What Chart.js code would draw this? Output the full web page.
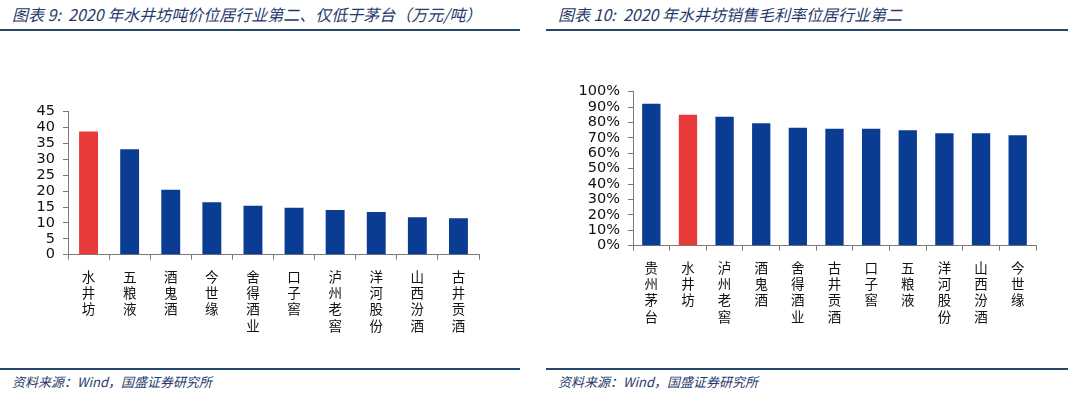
<!DOCTYPE html>
<html lang="zh">
<head>
  <meta charset="UTF-8">
  <title>水井坊吨价与毛利率</title>
  <script src="https://cdn.jsdelivr.net/npm/chart.js"></script>
  <style>
    body {
      margin: 0;
      width: 1068px;
      height: 398px;
      position: relative;
      background: #fff;
      overflow: hidden;
      font-family: "Noto Sans CJK SC", sans-serif;
    }
    .title, .source {
      position: absolute;
      color: #1f3a6b;
      font-style: italic;
      white-space: nowrap;
    }
    .title { font-size: 16px; top: 2px; }
    .source { font-size: 13px; top: 372px; }
    .rule {
      position: absolute;
      height: 2px;
      background: #24476b;
    }
    .box { position: absolute; }
  </style>
</head>
<body>
  <div class="title" style="left:12px">图表 9:&nbsp; 2020 年水井坊吨价位居行业第二、仅低于茅台（万元/吨）</div>
  <div class="title" style="left:558px">图表 10:&nbsp; 2020 年水井坊销售毛利率位居行业第二</div>
  <div class="rule" style="left:0; width:520px; top:29px"></div>
  <div class="rule" style="left:546px; width:522px; top:29px"></div>

  <div class="box" style="left:0; top:95px"><canvas id="priceChart" width="490" height="255"></canvas></div>
  <div class="box" style="left:540px; top:75px"><canvas id="marginChart" width="510" height="275"></canvas></div>

  <div class="rule" style="left:0; width:520px; top:368px"></div>
  <div class="rule" style="left:546px; width:522px; top:368px"></div>
  <div class="source" style="left:12px">资料来源：Wind，国盛证券研究所</div>
  <div class="source" style="left:558px">资料来源：Wind，国盛证券研究所</div>

  <script>
    // 图表 9: 吨价（万元/吨）
    const priceLabels = ["水井坊", "五粮液", "酒鬼酒", "今世缘", "舍得酒业", "口子窖", "泸州老窖", "洋河股份", "山西汾酒", "古井贡酒"];
    const priceValues = [38.8, 33.2, 20.4, 16.5, 15.4, 14.8, 14.1, 13.4, 11.8, 11.5];
    const priceTicks = [0, 5, 10, 15, 20, 25, 30, 35, 40, 45];

    // 图表 10: 销售毛利率（%）
    const marginLabels = ["贵州茅台", "水井坊", "泸州老窖", "酒鬼酒", "舍得酒业", "古井贡酒", "口子窖", "五粮液", "洋河股份", "山西汾酒", "今世缘"];
    const marginValues = [92.1, 85.0, 83.7, 79.5, 76.6, 76.0, 76.0, 75.0, 73.1, 73.0, 71.8];
    const marginTicks = [0, 10, 20, 30, 40, 50, 60, 70, 80, 90, 100];

    const BLUE = "#0b3c93";
    const RED = "#e8393b";
    const AXIS = "#7a7a7a";

    function makeChart(id, labels, values, ticks, opts) {
      const ctx = document.getElementById(id).getContext("2d");
      return new Chart(ctx, {
        type: "bar",
        data: {
          labels: labels.map(s => Array.from(s)),   // one character per line
          datasets: [{
            data: values,
            backgroundColor: labels.map(s => s === "水井坊" ? RED : BLUE),
            borderWidth: 0,
            barPercentage: opts.barPct,
            categoryPercentage: 1
          }]
        },
        options: {
          responsive: false,
          animation: false,
          layout: { padding: { top: 11, right: opts.padRight, left: 0, bottom: 0 } },
          plugins: { legend: { display: false }, tooltip: { enabled: false } },
          scales: {
            x: {
              grid: { display: true, drawOnChartArea: false, drawTicks: true, tickLength: 5, color: AXIS, offset: true },
              border: { color: AXIS, width: 1 },
              ticks: {
                color: "#111",
                padding: 9,
                maxRotation: 0,
                autoSkip: false,
                font: { family: "'Noto Sans CJK SC', sans-serif", size: 13.5, lineHeight: 1.2 }
              },
              afterFit: s => { s.height = opts.xHeight; }
            },
            y: {
              min: ticks[0],
              max: ticks[ticks.length - 1],
              afterBuildTicks: s => { s.ticks = ticks.map(v => ({ value: v })); },
              grid: { display: true, drawOnChartArea: false, drawTicks: true, tickLength: 5, color: AXIS },
              border: { color: AXIS, width: 1 },
              ticks: {
                color: "#111",
                padding: 8,
                autoSkip: false,
                font: { family: "'DejaVu Sans', sans-serif", size: 14.5 },
                callback: v => v + opts.suffix
              },
              afterFit: s => { s.width = opts.yWidth; }
            }
          }
        }
      });
    }

    makeChart("priceChart", priceLabels, priceValues, priceTicks,
      { barPct: 0.46, padRight: 11, xHeight: 95.3, yWidth: 68, suffix: "" });
    makeChart("marginChart", marginLabels, marginValues, marginTicks,
      { barPct: 0.5, padRight: 14, xHeight: 104.3, yWidth: 93, suffix: "%" });
  </script>
</body>
</html>
